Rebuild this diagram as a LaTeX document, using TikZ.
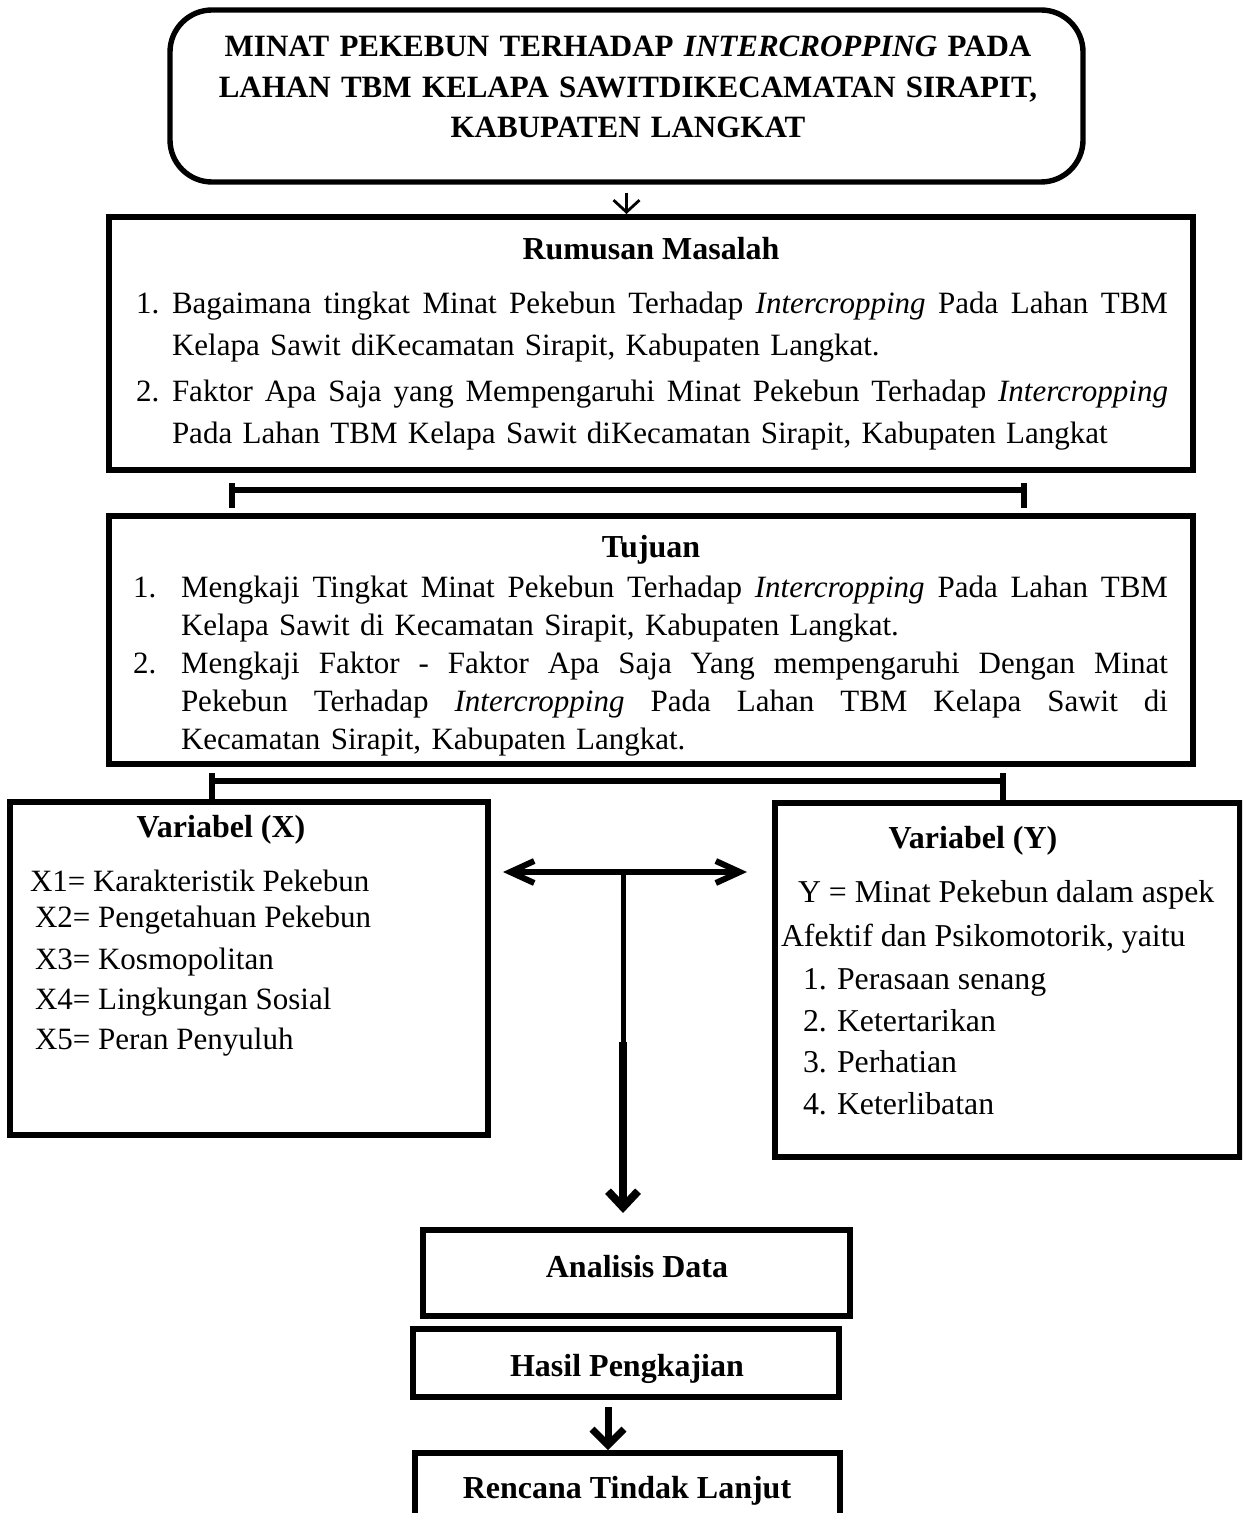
\documentclass[tikz,border=0pt]{standalone}
\usepackage{fontspec}
\setmainfont{Liberation Serif}
\usetikzlibrary{arrows.meta}
\newcommand{\bodyfont}{\fontsize{15.5}{21}\selectfont}
\newcommand{\tujfont}{\fontsize{15.5}{19}\selectfont}
\newcommand{\yfont}{\fontsize{15.9}{21}\selectfont}
\newcommand{\jline}[2]{\makebox[#1][s]{\spaceskip=0.25em plus 1fil minus 0.05em\relax #2}}
\begin{document}
\begin{tikzpicture}[x=0.5pt,y=-0.5pt,
  box/.style={draw, line width=3pt, inner sep=0pt, rectangle},
  txt/.style={inner sep=0pt, outer sep=0pt, font=\bodyfont},
  ytxt/.style={inner sep=0pt, outer sep=0pt, font=\yfont},
  head/.style={inner sep=0pt, outer sep=0pt, font=\bfseries\fontsize{16}{20}\selectfont},
  titlefont/.style={inner sep=0pt, outer sep=0pt, font=\bfseries\fontsize{15.5}{20.25}\selectfont},
  conn/.style={line width=3pt},
  tickln/.style={line width=3pt}]
\useasboundingbox (0,0) rectangle (1242,1513);
\fill[white] (0,0) rectangle (1242,1513);
\clip (0,0) rectangle (1242,1513);

% ---------- boxes ----------
\node[box, rounded corners=21pt, line width=2.7pt, minimum width=456.5pt, minimum height=86pt] (title) at (626.5,96) {};
\node[box, minimum width=542pt, minimum height=126.5pt] (rum) at (651,343.5) {};
\node[box, minimum width=542pt, minimum height=124pt] (tuj) at (651,640) {};
\node[box, minimum width=239pt, minimum height=166.5pt] (varx) at (249,968.5) {};
\node[box, minimum width=232.5pt, minimum height=177pt] (vary) at (1007.5,980) {};
\node[box, minimum width=213.5pt, minimum height=43pt] (ana) at (636.5,1273) {};
\node[box, minimum width=213pt, minimum height=34pt] (has) at (626,1363) {};
\node[box, minimum width=212.5pt, minimum height=50pt] (ren) at (627.5,1503) {};

% ---------- title text ----------
\node[titlefont, anchor=base, text width=450pt, align=center] (ttext) at (628,57)
  {MINAT PEKEBUN TERHADAP \textit{INTERCROPPING} PADA\\
   LAHAN TBM KELAPA SAWITDIKECAMATAN SIRAPIT,\\
   KABUPATEN LANGKAT};

% ---------- Rumusan Masalah ----------
\node[head, anchor=base] (rumh) at (651,260) {Rumusan Masalah};
\node[txt, anchor=base west] (rn1) at (136,314) {1.};
\node[txt, anchor=base west, text width=498pt, align=left] (ri1) at (172,314)
  {\jline{498pt}{Bagaimana tingkat Minat Pekebun Terhadap \textit{Intercropping} Pada Lahan TBM}\\
   Kelapa Sawit diKecamatan Sirapit, Kabupaten Langkat.};
\node[txt, anchor=base west] (rn2) at (136,401) {2.};
\node[txt, anchor=base west, text width=498pt, align=left] (ri2) at (172,401)
  {\jline{498pt}{Faktor Apa Saja yang Mempengaruhi Minat Pekebun Terhadap \textit{Intercropping}}\\
   Pada Lahan TBM Kelapa Sawit diKecamatan Sirapit, Kabupaten Langkat};

% ---------- Tujuan ----------
\node[head, anchor=base] (tujh) at (651,557) {Tujuan};
\node[txt, anchor=base west, font=\tujfont] (tn1) at (133,597) {1.};
\node[txt, anchor=base west, text width=493.5pt, align=left, font=\tujfont] (ti1) at (181,597)
  {\jline{493.5pt}{Mengkaji Tingkat Minat Pekebun Terhadap \textit{Intercropping} Pada Lahan TBM}\\
   Kelapa Sawit di Kecamatan Sirapit, Kabupaten Langkat.};
\node[txt, anchor=base west, font=\tujfont] (tn2) at (133,673) {2.};
\node[txt, anchor=base west, text width=493.5pt, align=left, font=\tujfont] (ti2) at (181,673)
  {\jline{493.5pt}{Mengkaji Faktor - Faktor Apa Saja Yang mempengaruhi Dengan Minat}\\
   \jline{493.5pt}{Pekebun Terhadap \textit{Intercropping} Pada Lahan TBM Kelapa Sawit di}\\
   Kecamatan Sirapit, Kabupaten Langkat.};

% ---------- Variabel X ----------
\node[head, anchor=base] (vxh) at (221,837) {Variabel (X)};
\node[txt, anchor=base west] (x1) at (30,891) {X1= Karakteristik Pekebun};
\node[txt, anchor=base west] (x2) at (35,927) {X2= Pengetahuan Pekebun};
\node[txt, anchor=base west] (x3) at (35,969) {X3= Kosmopolitan};
\node[txt, anchor=base west] (x4) at (35,1009) {X4= Lingkungan Sosial};
\node[txt, anchor=base west] (x5) at (35,1049) {X5= Peran Penyuluh};

% ---------- Variabel Y ----------
\node[head, anchor=base] (vyh) at (973,848) {Variabel (Y)};
\node[ytxt, anchor=base west] (y0) at (798,902) {Y = Minat Pekebun dalam aspek};
\node[ytxt, anchor=base west] (y00) at (781,946) {Afektif dan Psikomotorik, yaitu};
\node[ytxt, anchor=base west] (yn1) at (803,989) {1.};
\node[ytxt, anchor=base west] (yi1) at (837,989) {Perasaan senang};
\node[ytxt, anchor=base west] (yn2) at (803,1031) {2.};
\node[ytxt, anchor=base west] (yi2) at (837,1031) {Ketertarikan};
\node[ytxt, anchor=base west] (yn3) at (803,1072) {3.};
\node[ytxt, anchor=base west] (yi3) at (837,1072) {Perhatian};
\node[ytxt, anchor=base west] (yn4) at (803,1114) {4.};
\node[ytxt, anchor=base west] (yi4) at (837,1114) {Keterlibatan};

% ---------- bottom texts ----------
\node[head, anchor=base] (anat) at (637,1277) {Analisis Data};
\node[head, anchor=base] (hast) at (627,1376) {Hasil Pengkajian};
\node[head, anchor=base] (rent) at (627,1498) {Rencana Tindak Lanjut};

% ---------- connectors ----------
\draw[line width=1.4pt, -{Straight Barb[length=6pt,width=13pt]}] ([yshift=-4pt]title.south) -- (title.south |- rum.north);

\coordinate (b1l) at (232,490);
\coordinate (b1r) at (1024,490);
\draw[conn] (b1l) -- (b1r);
\draw[tickln] ([yshift=3.5pt]b1l) -- ([yshift=-9pt]b1l);
\draw[tickln] ([yshift=3.5pt]b1r) -- ([yshift=-9pt]b1r);

\coordinate (b2l) at (212,781);
\coordinate (b2r) at (1003,781);
\draw[conn] (b2l) -- (b2r);
\draw[tickln] ([yshift=4pt]b2l) -- (b2l |- varx.north);
\draw[tickln] ([yshift=4pt]b2r) -- (b2r |- vary.north);

\coordinate (dl) at (503,872);
\coordinate (dr) at (747,872);
\draw[line width=3pt, {Straight Barb[length=12pt,width=11pt]}-{Straight Barb[length=12pt,width=11pt]}] (dl) -- (dr);

\coordinate (sj) at (623,872);
\coordinate (sm) at (623,1042);
\coordinate (se) at (623,1213);
\draw[line width=2.5pt] (sj) -- (sm);
\draw[line width=4pt, -{Straight Barb[length=8pt,width=15pt]}] (sm) -- (se);

\coordinate (h1) at (608,1407);
\coordinate (h2) at (608,1450);
\draw[line width=3.5pt, -{Straight Barb[length=8pt,width=16pt]}] (h1) -- (h2);
\end{tikzpicture}
\end{document}
